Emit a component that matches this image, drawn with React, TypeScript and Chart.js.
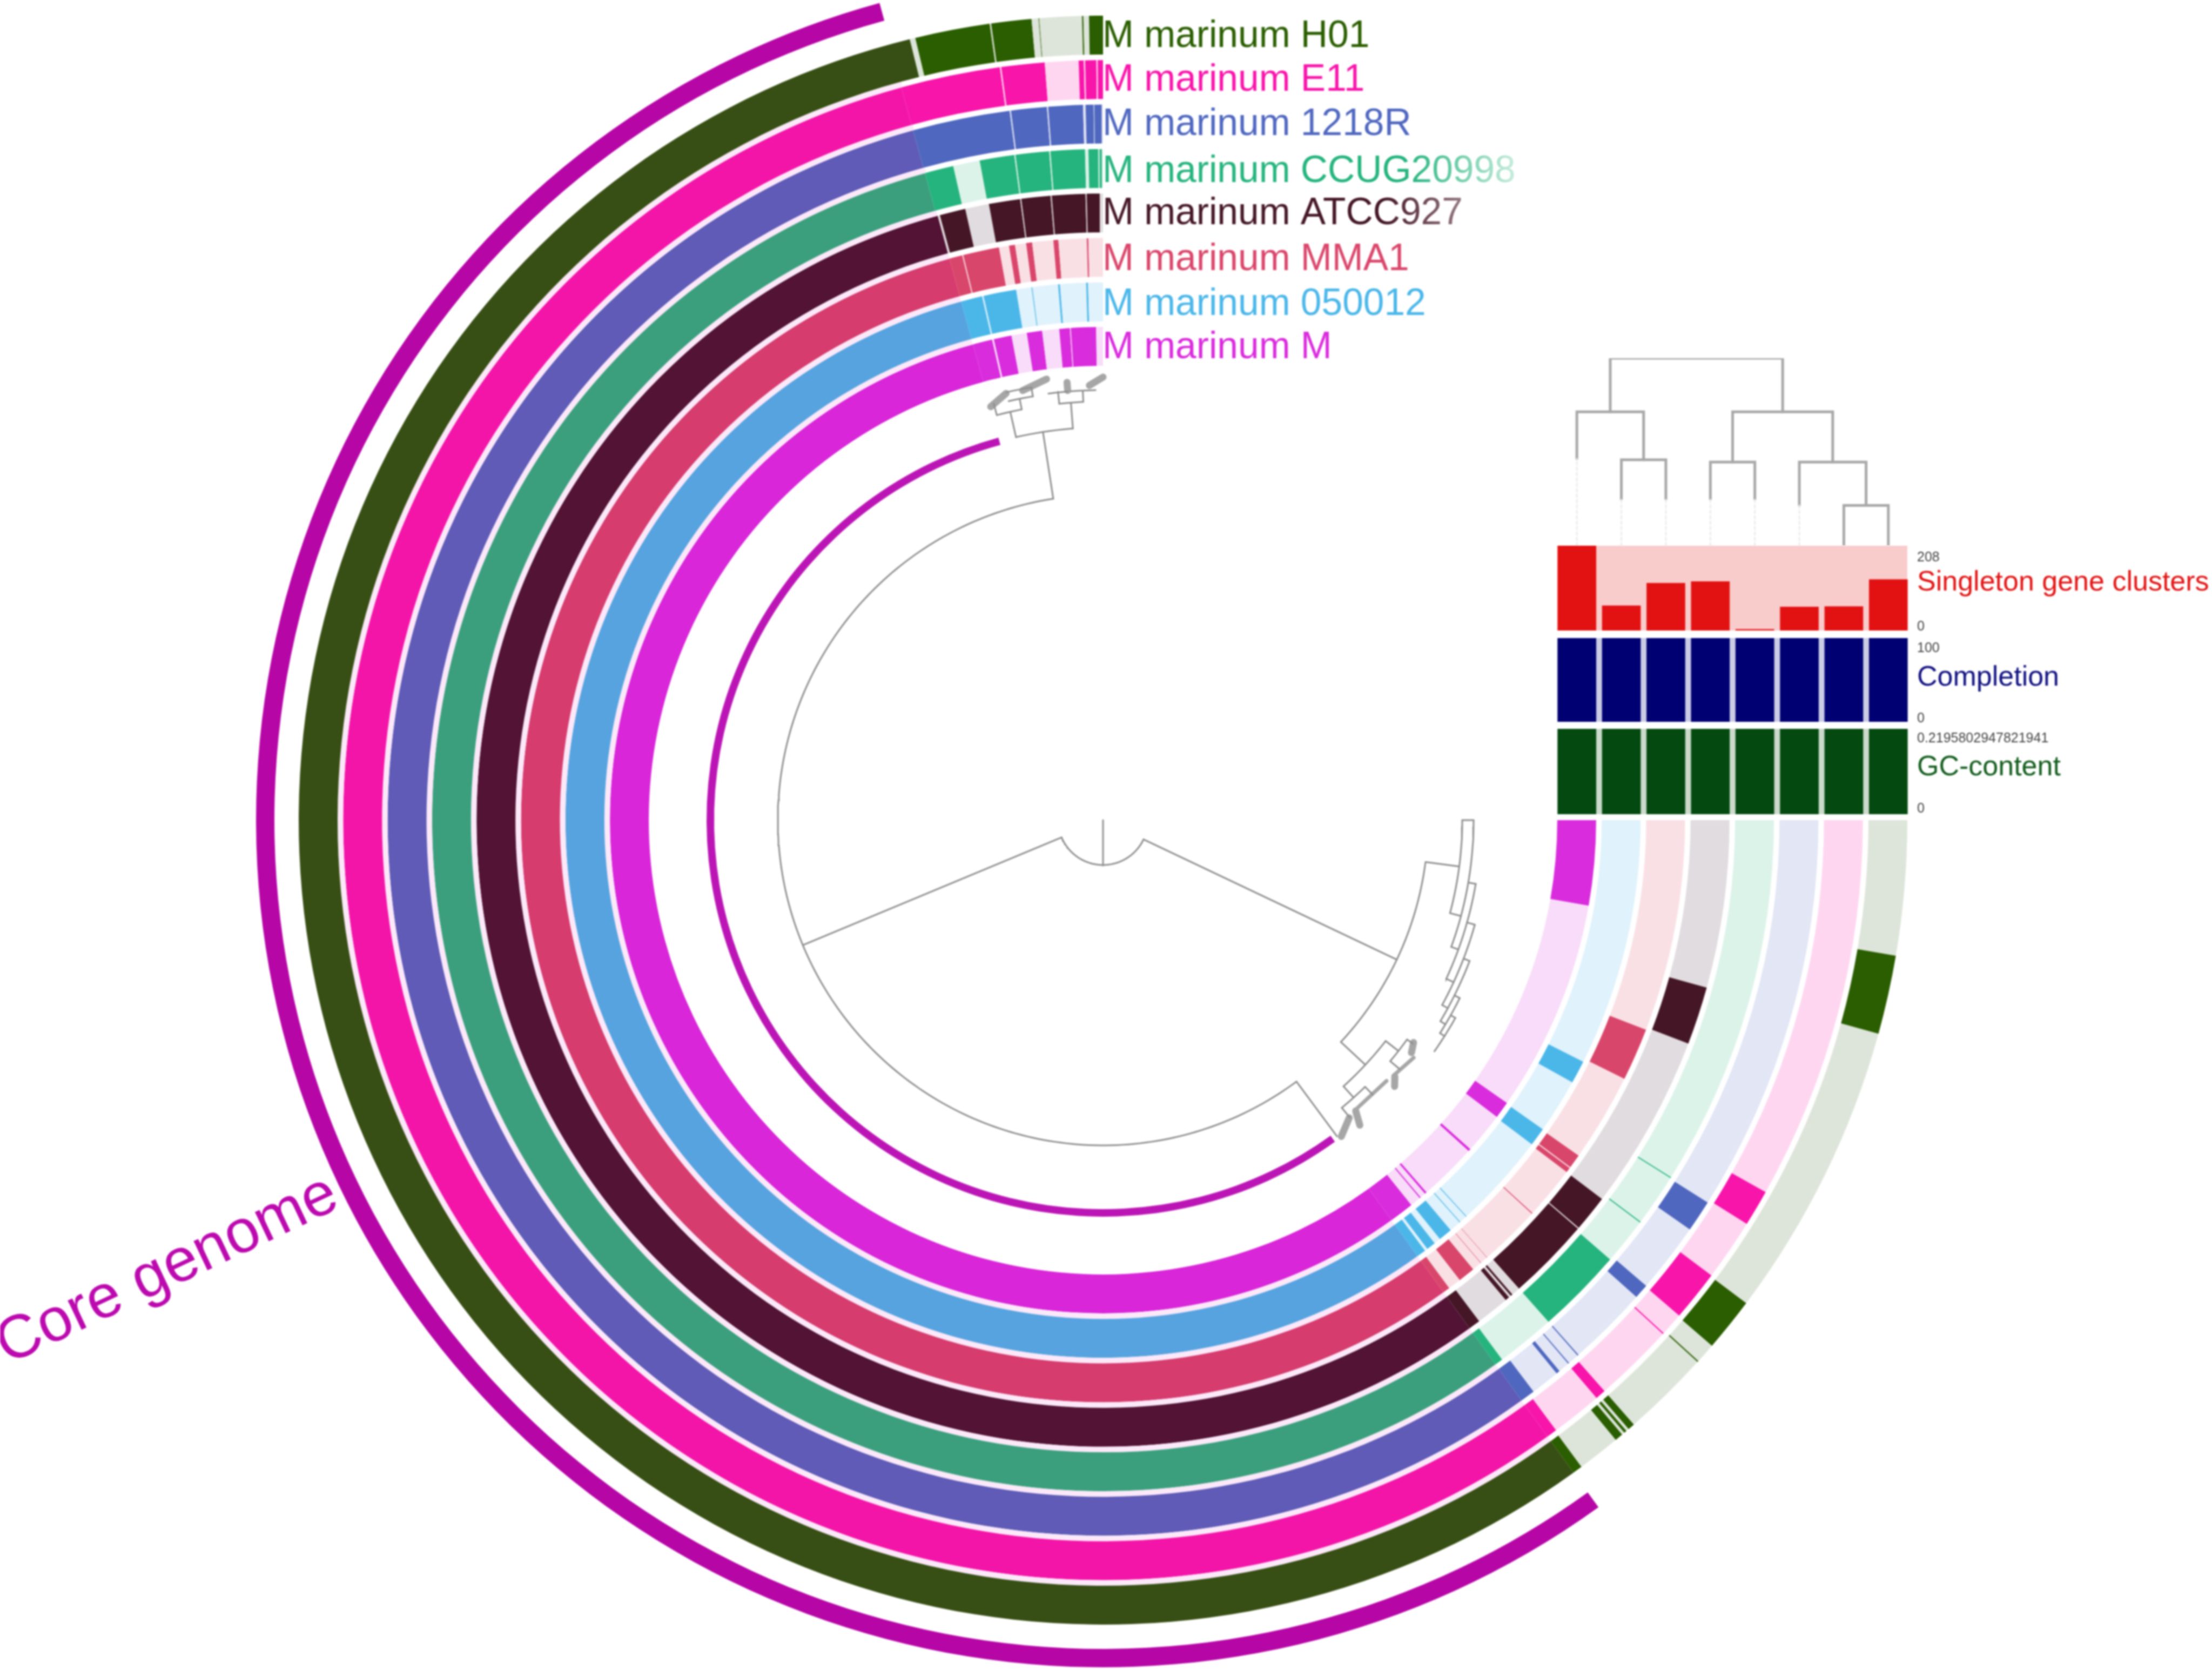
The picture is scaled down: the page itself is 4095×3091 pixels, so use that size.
import React, { useEffect, useRef } from "react";
import { Chart, registerables } from "chart.js";
Chart.register(...registerables);

type Seg = [number, "l" | "a" | "c"];

// Ring bands: [end angle in degrees clockwise from 3 o'clock, band kind]
const ringH01: Seg[] = [[9.7,"l"],[15.4,"a"],[36.9,"l"],[40.8,"a"],[42.25,"l"],[42.35,"a"],[48.7,"l"],[49.2,"a"],[49.4,"l"],[49.6,"a"],[49.8,"l"],[50.4,"a"],[53.5,"l"],[54.2,"a"],[256.1,"c"],[256.5,"l"],[261.9,"a"],[262,"l"],[264.9,"a"],[265.4,"l"],[265.45,"a"],[268.5,"l"],[268.6,"a"],[269,"l"],[270,"a"]];
const ringE11: Seg[] = [[29.3,"l"],[32.1,"a"],[36.8,"l"],[40.7,"a"],[42.45,"l"],[42.55,"a"],[48.7,"l"],[49.5,"a"],[53.4,"l"],[54.2,"a"],[254.6,"c"],[262.2,"a"],[262.3,"l"],[265.6,"a"],[268.16,"l"],[268.55,"a"],[268.65,"l"],[269.5,"a"],[269.6,"l"],[270,"a"]];
const ring1218R: Seg[] = [[32.3,"l"],[34.9,"a"],[40.6,"l"],[41.8,"a"],[48.35,"l"],[48.45,"a"],[49.35,"l"],[49.45,"a"],[50.35,"l"],[50.65,"a"],[53,"l"],[54.2,"a"],[254.6,"c"],[262.5,"a"],[262.6,"l"],[265.5,"a"],[265.6,"l"],[268.4,"a"],[268.6,"l"],[269.25,"a"],[269.3,"l"],[269.9,"a"],[270,"l"]];
const ringCCUG: Seg[] = [[32.15,"l"],[32.25,"a"],[36.75,"l"],[36.85,"a"],[40.9,"l"],[48.4,"a"],[53.5,"l"],[54.2,"a"],[254.6,"c"],[257.1,"a"],[259.4,"l"],[262.4,"a"],[262.5,"l"],[265.4,"a"],[265.5,"l"],[268.46,"a"],[268.75,"l"],[269.6,"a"],[269.7,"l"],[269.9,"a"],[270,"l"]];
const ringATCC: Seg[] = [[15.5,"l"],[20.9,"a"],[37.2,"l"],[40.6,"a"],[40.7,"l"],[48.4,"a"],[49.2,"l"],[49.4,"a"],[49.6,"l"],[50,"a"],[53.1,"l"],[54.2,"a"],[254.7,"c"],[254.9,"l"],[257.3,"a"],[259.5,"l"],[262.4,"a"],[262.5,"l"],[265.2,"a"],[265.3,"l"],[268.4,"a"],[268.5,"l"],[269.7,"a"],[270,"l"]];
const ringMMA1: Seg[] = [[21.1,"l"],[26.4,"a"],[35.2,"l"],[36.6,"a"],[36.7,"l"],[37.2,"a"],[42.45,"l"],[42.55,"a"],[48.7,"l"],[48.75,"a"],[49.5,"l"],[49.55,"a"],[50.5,"l"],[52.2,"a"],[53.5,"l"],[54.2,"a"],[254.7,"c"],[256,"a"],[256.1,"l"],[259.7,"a"],[260.7,"l"],[261.3,"a"],[262.4,"l"],[263,"a"],[265.1,"l"],[265.6,"a"],[268.4,"l"],[268.55,"a"],[270,"l"]];
const ring050012: Seg[] = [[26.7,"l"],[29.2,"a"],[35.1,"l"],[37.1,"a"],[47.45,"l"],[47.55,"a"],[48.35,"l"],[48.45,"a"],[49.7,"l"],[51.2,"a"],[51.9,"l"],[52.9,"a"],[53.2,"l"],[54.2,"a"],[254.7,"c"],[257,"a"],[257.15,"l"],[260.7,"a"],[262.35,"l"],[262.45,"a"],[265.2,"l"],[265.4,"a"],[268.2,"l"],[268.4,"a"],[270,"l"]];
const ringM: Seg[] = [[10,"a"],[35,"l"],[37,"a"],[41.85,"l"],[42.15,"a"],[49,"l"],[49.25,"a"],[49.9,"l"],[50.05,"a"],[51.3,"l"],[54.2,"a"],[254.7,"c"],[257,"a"],[257.2,"l"],[259.3,"a"],[261.1,"l"],[262.9,"a"],[264.9,"l"],[266.15,"a"],[266.25,"l"],[269.2,"a"],[270,"l"]];

const genomeSpans = [54.2, 200.5, 15.3];

const genomeNames = ["M marinum H01","M marinum E11","M marinum 1218R","M marinum CCUG20998","M marinum ATCC927","M marinum MMA1","M marinum 050012","M marinum M"];
const coreColors = ["#374f14","#f315a8","#5f5bb7","#3b9f7d","#521334","#d63c6e","#57a3df","#d826d8"];
const accessoryColors = ["#2a5e00","#f715aa","#4f67bf","#25b47e","#451726","#d9466b","#4bb7e9","#d92cdc"];
const lightColors = ["#dde5da","#fed6f0","#e2e6f5","#dcf3ea","#e1dcdf","#f9e0e5","#e0f2fb","#f8dcf9"];

const columns = ["c1","c2","c3","c4","c5","c6","c7","c8"];
const singletonValues = [208, 61, 116, 120, 3, 58, 59, 125];
const completionValues = [100, 100, 100, 100, 100, 100, 100, 100];
const gcValues = [0.2195802947821941,0.2195802947821941,0.2195802947821941,0.2195802947821941,0.2195802947821941,0.2195802947821941,0.2195802947821941,0.2195802947821941];

const panelTitles = ["Singleton gene clusters","Completion","GC-content"];
const panelMaxLabels = ["208","100","0.2195802947821941"];
const panelMinLabel = "0";
const coreTitle = "Core genome";

// Layer dendrogram: polylines of [column, height] pairs
const layerTree: number[][] = [
  [0.75,.714,.75,1,4.625,1,4.625,.714],
  [0,.463,0,.714,1.5,.714,1.5,.458],
  [1,.248,1,.458,2,.458,2,.248],
  [3.5,.446,3.5,.714,5.75,.714,5.75,.446],
  [3,.248,3,.446,4,.446,4,.248],
  [5,.215,5,.446,6.5,.446,6.5,.215],
  [6,0,6,.215,7,.215,7,0],
];
const layerLeaves: number[][] = [[0,.463],[1,.248],[2,.248],[3,.248],[4,.248],[5,.215]];

// Circular gene cluster tree: rungs [angle, r0, r1], arcs [r, a0, a1]
const treeRungs = [[90,0,84],[157.4,83,602],[25.4,83,602],[261.2,602,727],[257.2,727,775],[265.6,727,775],[255.3,775,797],[258.8,775,795],[260.6,795,812],[264,775,797],[267.3,775,795],[7.4,602,665],[0,665,686],[15,665,686],[9.7,686,700],[20,686,700],[15.7,700,715],[24.8,700,715],[21,715,727],[28.6,715,727],[26.5,727,738],[30.8,727,738],[29.3,738,748],[32.3,738,748],[43,602,664],[38,664,694],[35.8,694,707],[40,694,716],[47.9,664,692],[45.5,692,712],[50.3,692,715],[53.5,602,728]];
const treeArcs = [[83,25.6,157.4],[602,7.6,43],[602,53.5,261.2],[727,257.2,265.6],[775,255.3,258.8],[795,257.3,260.6],[812,257.3,260.6],[775,264,267.3],[796,262.7,265.3],[796,265.7,269],[665,0,15],[686,0,20],[700,9.7,24.8],[715,15.7,28.6],[727,21,30.8],[738,26.5,32.3],[748,29.3,34.9],[664,38,47.9],[694,35.8,40],[692,45.5,50.3]];
// Dense leaf clusters: [a0, r0, a1, r1]
const treeClusters = [[254.8,793,257.2,810],[259.4,809,262.7,823],[265.3,798,265.3,813],[268.2,805,270,820],[35.6,707,37,715],[41.3,719,42.4,731],[49,713,49.9,738],[50.4,715,53,733]];
const treeBands = [[37.4,724,41.3,716],[42.6,713,48.5,711]];

const FONT = '"Liberation Sans", Arial, sans-serif';
const CLEAR = "rgba(0,0,0,0)";
const CX = 2042;
const CY = 1518;
const R = 1568;

function polar(a: number, r: number) {
  const t = (a * Math.PI) / 180;
  return { x: r * Math.cos(t), y: r * Math.sin(t) };
}
function arcPoints(list: number[][]) {
  const out: any[] = [];
  for (const [r, a0, a1] of list) {
    for (let a = a0; a < a1; a += 1) out.push(polar(a, r));
    out.push(polar(a1, r));
    out.push({ x: 0, y: null });
  }
  return out;
}
function rungPoints(list: number[][]) {
  const out: any[] = [];
  for (const [a, r0, r1] of list) {
    out.push(polar(a, r0), polar(a, r1), { x: 0, y: null });
  }
  return out;
}
function diagPoints(list: number[][]) {
  const out: any[] = [];
  for (const [a0, r0, a1, r1] of list) {
    out.push(polar(a0, r0), polar(a1, r1), { x: 0, y: null });
  }
  return out;
}
function pairs(flat: number[]) {
  const out: any[] = [];
  for (let i = 0; i < flat.length; i += 2) out.push({ x: flat[i], y: flat[i + 1] });
  return out;
}

function ringDataset(seg: Seg[], i: number) {
  let prev = 0;
  const data: number[] = [];
  const backgroundColor: string[] = [];
  for (const [end, kind] of seg) {
    data.push(end - prev);
    prev = end;
    backgroundColor.push(kind === "l" ? lightColors[i] : kind === "a" ? accessoryColors[i] : coreColors[i]);
  }
  return { data, backgroundColor, weight: 72, borderWidth: 0 };
}
function gap(weight: number, color: string) {
  return { data: genomeSpans, backgroundColor: [CLEAR, color, CLEAR], weight, borderWidth: 0 };
}

const rings = [ringH01, ringE11, ring1218R, ringCCUG, ringATCC, ringMMA1, ring050012, ringM];
const GAP_COLOR = "#fbe8f9";

const baseOpts: any = {
  responsive: false,
  animation: false,
  devicePixelRatio: 1,
  events: [],
  layout: { padding: 0 },
  plugins: { legend: { display: false }, tooltip: { enabled: false } },
};

const labelBaselines = [87, 168, 250, 337, 415, 500, 583, 663];

const textPlugin = {
  id: "pageText",
  afterDatasetsDraw(chart: any) {
    const { ctx } = chart;
    ctx.save();
    ctx.textBaseline = "alphabetic";
    ctx.textAlign = "left";
    ctx.font = `69.5px ${FONT}`;
    genomeNames.forEach((name, i) => {
      const x = 2041;
      let fill: any = accessoryColors[i];
      if (i === 3 || i === 4) {
        const w = ctx.measureText(name).width;
        const g = ctx.createLinearGradient(x, 0, x + w, 0);
        g.addColorStop(0, accessoryColors[i]);
        g.addColorStop(i === 3 ? 0.74 : 0.78, accessoryColors[i]);
        g.addColorStop(1, i === 3 ? "#c6ecdd" : "#937780");
        fill = g;
      }
      ctx.fillStyle = fill;
      ctx.fillText(name, x, labelBaselines[i]);
    });
    const titleColors = ["#e01414", "#101080", "#125c1c"];
    const titleY = [1093, 1269, 1435];
    ctx.font = `52px ${FONT}`;
    panelTitles.forEach((t, i) => {
      ctx.fillStyle = titleColors[i];
      ctx.fillText(t, 3549, titleY[i]);
    });
    ctx.font = `25px ${FONT}`;
    ctx.fillStyle = "#444444";
    const maxY = [1039, 1207, 1374];
    const minY = [1167, 1337, 1504];
    panelMaxLabels.forEach((t, i) => {
      ctx.fillText(t, 3549, maxY[i]);
      ctx.fillText(panelMinLabel, 3549, minY[i]);
    });
    ctx.translate(323, 2380);
    ctx.rotate((-25.3 * Math.PI) / 180);
    ctx.textAlign = "center";
    ctx.textBaseline = "alphabetic";
    ctx.font = `113px ${FONT}`;
    ctx.fillStyle = "#bb0aae";
    ctx.fillText(coreTitle, 0, 0);
    ctx.restore();
  },
};

const panelBackground = {
  id: "panelBackground",
  beforeDatasetsDraw(chart: any) {
    const { ctx, chartArea: a } = chart;
    ctx.save();
    ctx.fillStyle = chart.options.plugins.panelBackground.color;
    ctx.fillRect(a.left + 5, a.top, a.right - a.left - 11, a.bottom - a.top);
    ctx.restore();
  },
};

const canvasStyle = (left: number, top: number): React.CSSProperties => ({
  position: "absolute",
  left,
  top,
  display: "block",
  filter: "blur(1.4px)",
});

const PANEL_LEFT = 2878;
const PANEL_WIDTH = 659;

export default function App() {
  const ringRef = useRef<HTMLCanvasElement>(null);
  const treeRef = useRef<HTMLCanvasElement>(null);
  const layerRef = useRef<HTMLCanvasElement>(null);
  const p0 = useRef<HTMLCanvasElement>(null);
  const p1 = useRef<HTMLCanvasElement>(null);
  const p2 = useRef<HTMLCanvasElement>(null);

  useEffect(() => {
    const charts: Chart[] = [];

    const datasets: any[] = [
      { data: genomeSpans, backgroundColor: [CLEAR, "#b606a6", CLEAR], weight: 34, borderWidth: 0 },
      gap(45, CLEAR),
    ];
    rings.forEach((seg, i) => {
      datasets.push(ringDataset(seg, i));
      if (i < rings.length - 1) datasets.push(gap(10.3, GAP_COLOR));
    });
    datasets.push(gap(106.9, CLEAR));
    datasets.push({ data: genomeSpans, backgroundColor: [CLEAR, "#bb16b5", CLEAR], weight: 14, borderWidth: 0 });

    charts.push(
      new Chart(ringRef.current!, {
        type: "doughnut",
        data: { labels: ["accessory start", "core", "accessory end"], datasets },
        options: { ...baseOpts, rotation: 90, circumference: 270, cutout: 720 },
      } as any)
    );

    const lineSet = (data: any[], color: string, width: number) => ({
      data,
      showLine: true,
      pointRadius: 0,
      borderColor: color,
      borderWidth: width,
      borderCapStyle: "round",
      tension: 0,
      spanGaps: false,
    });

    charts.push(
      new Chart(treeRef.current!, {
        type: "scatter",
        data: {
          datasets: [
            lineSet(arcPoints(treeArcs), "#8f8f8f", 3),
            lineSet(rungPoints(treeRungs), "#8f8f8f", 3),
            lineSet(diagPoints(treeClusters), "#a6a6a6", 13),
            lineSet(diagPoints(treeBands), "#a6a6a6", 7),
          ],
        },
        options: {
          ...baseOpts,
          scales: {
            x: { type: "linear", display: false, min: -CX, max: 4095 - CX },
            y: { type: "linear", display: false, reverse: true, min: -CY, max: 3091 - CY },
          },
        },
        plugins: [textPlugin],
      } as any)
    );

    charts.push(
      new Chart(layerRef.current!, {
        type: "scatter",
        data: {
          datasets: [
            ...layerLeaves.map(([c, h]) => ({
              ...lineSet([{ x: c, y: 0 }, { x: c, y: h }], "#ececec", 3),
              borderDash: [5, 5],
            })),
            ...layerTree.map((p) => lineSet(pairs(p), "#a8a8a8", 5)),
          ],
        },
        options: {
          ...baseOpts,
          scales: {
            x: { type: "linear", display: false, min: -0.5, max: 7.5 },
            y: { type: "linear", display: false, min: 0, max: 1 },
          },
        },
      } as any)
    );

    const panels: [React.RefObject<HTMLCanvasElement | null>, number[], string, string, number][] = [
      [p0, singletonValues, "#e21212", "#f9cccc", 208],
      [p1, completionValues, "#000072", "#cacce6", 100],
      [p2, gcValues, "#044a10", "#cbdacb", 0.2195802947821941],
    ];
    panels.forEach(([ref, values, color, bg, max]) => {
      charts.push(
        new Chart(ref.current!, {
          type: "bar",
          data: {
            labels: columns,
            datasets: [{ data: values, backgroundColor: color, barThickness: 71, borderWidth: 0 }],
          },
          options: {
            ...baseOpts,
            plugins: { ...baseOpts.plugins, panelBackground: { color: bg } },
            scales: {
              x: { display: false },
              y: { display: false, min: 0, max },
            },
          },
          plugins: [panelBackground],
        } as any)
      );
    });

    return () => charts.forEach((c) => c.destroy());
  }, []);

  return (
    <div
      style={{
        position: "absolute",
        left: 0,
        top: 0,
        width: 4095,
        height: 3091,
        overflow: "hidden",
        background: "#ffffff",
      }}
    >
      <canvas ref={ringRef} width={R * 2} height={R * 2} style={canvasStyle(CX - R, CY - R)} />
      <canvas ref={layerRef} width={PANEL_WIDTH} height={347} style={canvasStyle(PANEL_LEFT, 663)} />
      <canvas ref={p0} width={PANEL_WIDTH} height={157} style={canvasStyle(PANEL_LEFT, 1010)} />
      <canvas ref={p1} width={PANEL_WIDTH} height={155} style={canvasStyle(PANEL_LEFT, 1181)} />
      <canvas ref={p2} width={PANEL_WIDTH} height={158} style={canvasStyle(PANEL_LEFT, 1349)} />
      <canvas ref={treeRef} width={4095} height={3091} style={canvasStyle(0, 0)} />
    </div>
  );
}
